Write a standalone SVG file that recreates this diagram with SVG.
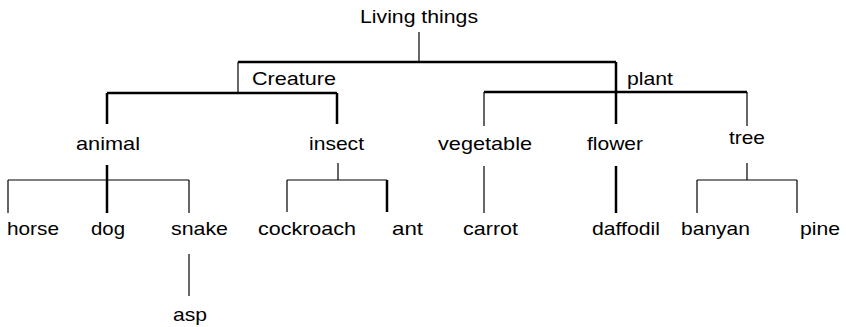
<svg xmlns="http://www.w3.org/2000/svg" width="846" height="327" viewBox="0 0 846 327">
<style>
text{font-family:"Liberation Sans",Arial,sans-serif;font-size:18.5px;fill:#000}
.k{stroke:#000;fill:none;stroke-width:2.5}
.t{stroke:#000;fill:none;stroke-width:1.2}
</style>
<rect width="846" height="327" fill="#fff"/>
<g id="connectors">
<path class="t" d="M419,32V62"/>
<path class="k" d="M238,62H616"/>
<path class="t" d="M238,62V94"/>
<path class="k" d="M107,93H337M107,93V124M337,93V124"/>
<path class="k" d="M616,62V124M484,92H747"/>
<path class="t" d="M484,92V126M747,92V126"/>
<path class="k" d="M107,165V213"/>
<path class="t" d="M8,180H189M8,180V213M189,180V213"/>
<path class="t" d="M189,254V296"/>
<path class="t" d="M338,163V180M287,180H387M287,180V212"/>
<path class="k" d="M387,180V212"/>
<path class="t" d="M484,166V213"/>
<path class="k" d="M616,166V213"/>
<path class="t" d="M747,163V180M697,180H797M697,180V213M797,180V213"/>
</g>
<g id="living-things"><text x="360" y="23" textLength="118" lengthAdjust="spacingAndGlyphs">Living things</text></g>
<g id="creature"><text x="252" y="85" textLength="84" lengthAdjust="spacingAndGlyphs">Creature</text></g>
<g id="plant"><text x="627" y="85" textLength="46" lengthAdjust="spacingAndGlyphs">plant</text></g>
<g id="animal"><text x="76" y="150" textLength="64" lengthAdjust="spacingAndGlyphs">animal</text></g>
<g id="insect"><text x="309" y="150" textLength="55" lengthAdjust="spacingAndGlyphs">insect</text></g>
<g id="vegetable"><text x="438" y="150" textLength="94" lengthAdjust="spacingAndGlyphs">vegetable</text></g>
<g id="flower"><text x="587" y="150" textLength="56" lengthAdjust="spacingAndGlyphs">flower</text></g>
<g id="tree"><text x="729" y="143.5" textLength="36" lengthAdjust="spacingAndGlyphs">tree</text></g>
<g id="horse"><text x="7" y="235" textLength="52" lengthAdjust="spacingAndGlyphs">horse</text></g>
<g id="dog"><text x="91" y="235" textLength="34" lengthAdjust="spacingAndGlyphs">dog</text></g>
<g id="snake"><text x="171" y="235" textLength="57" lengthAdjust="spacingAndGlyphs">snake</text></g>
<g id="asp"><text x="173" y="321" textLength="34" lengthAdjust="spacingAndGlyphs">asp</text></g>
<g id="cockroach"><text x="258" y="235" textLength="98" lengthAdjust="spacingAndGlyphs">cockroach</text></g>
<g id="ant"><text x="392" y="235" textLength="31" lengthAdjust="spacingAndGlyphs">ant</text></g>
<g id="carrot"><text x="463" y="235" textLength="55" lengthAdjust="spacingAndGlyphs">carrot</text></g>
<g id="daffodil"><text x="592" y="235" textLength="68" lengthAdjust="spacingAndGlyphs">daffodil</text></g>
<g id="banyan"><text x="681" y="235" textLength="69" lengthAdjust="spacingAndGlyphs">banyan</text></g>
<g id="pine"><text x="800" y="235" textLength="40" lengthAdjust="spacingAndGlyphs">pine</text></g>
</svg>
